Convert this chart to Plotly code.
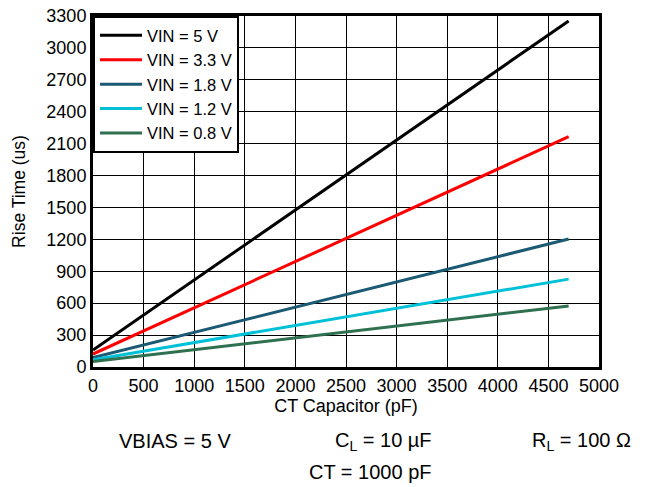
import plotly.graph_objects as go

ct_pf = [0, 4700]
series_names = ["VIN = 5 V", "VIN = 3.3 V", "VIN = 1.8 V", "VIN = 1.2 V", "VIN = 0.8 V"]
rise_5v = [160, 3253]
rise_3v3 = [122, 2165]
rise_1v8 = [88, 1203]
rise_1v2 = [68, 826]
rise_0v8 = [52, 574]
colors = ["#000000", "#ff0000", "#1a5a73", "#00c0d8", "#2e7050"]

xticks = [0, 500, 1000, 1500, 2000, 2500, 3000, 3500, 4000, 4500, 5000]
yticks = [0, 300, 600, 900, 1200, 1500, 1800, 2100, 2400, 2700, 3000, 3300]

fig = go.Figure()
for name, ys, c in zip(series_names, [rise_5v, rise_3v3, rise_1v8, rise_1v2, rise_0v8], colors):
    fig.add_trace(go.Scatter(x=ct_pf, y=ys, mode="lines", name=name,
                             line=dict(color=c, width=3)))

font_family = "Liberation Sans, Arial, sans-serif"
L, R, T, B = 93, 49, 16, 120
fig.update_layout(
    width=648, height=487,
    margin=dict(l=L, r=R, t=T, b=B, autoexpand=False),
    paper_bgcolor="white", plot_bgcolor="white",
    font=dict(family=font_family, size=18, color="black"),
    showlegend=True,
    legend=dict(x=0, y=1, xanchor="left", yanchor="top",
                bgcolor="white", bordercolor="black", borderwidth=2,
                font=dict(size=16.5), tracegroupgap=0, itemwidth=42),
    xaxis=dict(range=[0, 5000], tickvals=xticks, ticktext=[str(v) for v in xticks],
               showgrid=True, gridcolor="black", gridwidth=1,
               showline=True, linecolor="black", linewidth=3, mirror=True,
               zeroline=False, ticks="", tickfont=dict(size=18), automargin=False,
               title=dict(text="CT Capacitor (pF)", font=dict(size=18), standoff=2)),
    yaxis=dict(range=[0, 3300], tickvals=yticks, ticktext=[str(v) for v in yticks],
               showgrid=True, gridcolor="black", gridwidth=1,
               showline=True, linecolor="black", linewidth=3, mirror=True,
               zeroline=False, ticks="", tickfont=dict(size=18), automargin=False,
               title=dict(text="Rise Time (us)", font=dict(size=17.5), standoff=17)),
)

ann = [
    ("VBIAS = 5 V", 175, 441),
    ("C<sub>L</sub> = 10 µF", 383, 441),
    ("R<sub>L</sub> = 100 Ω", 581, 441),
    ("CT = 1000 pF", 370, 472),
]
for text, px, py in ann:
    fig.add_annotation(text=text, xref="paper", yref="paper",
                       x=(px - L) / (648 - L - R), y=(487 - B - py) / (487 - T - B),
                       xanchor="center", yanchor="middle", showarrow=False,
                       font=dict(size=20, color="black"))

fig.write_html("out.html", config={"displayModeBar": False},
               post_script="document.body.style.margin='0';document.body.style.overflow='hidden';")
